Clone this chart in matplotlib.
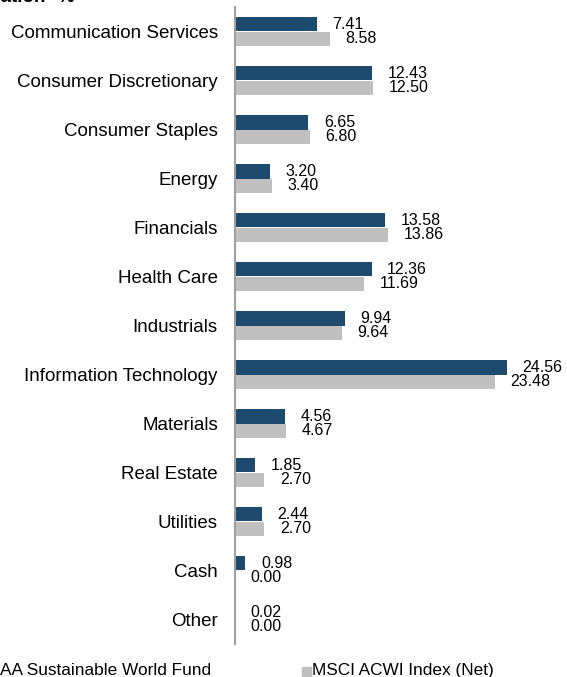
import matplotlib.pyplot as plt
import numpy as np
from matplotlib.patches import Rectangle

plt.rcParams['font.family'] = ['Liberation Sans', 'DejaVu Sans']

# Dati
sectors = ["Communication Services", "Consumer Discretionary", "Consumer Staples",
           "Energy", "Financials", "Health Care", "Industrials",
           "Information Technology", "Materials", "Real Estate", "Utilities",
           "Cash", "Other"]
fund = [7.41, 12.43, 6.65, 3.20, 13.58, 12.36, 9.94, 24.56, 4.56, 1.85, 2.44, 0.98, 0.02]
index = [8.58, 12.50, 6.80, 3.40, 13.86, 11.69, 9.64, 23.48, 4.67, 2.70, 2.70, 0.00, 0.00]

fund_name = "AA Sustainable World Fund"
index_name = "MSCI ACWI Index (Net)"
title = "Sector Allocation* %"

dark = '#1e4a6e'
grey = '#c0c0c0'

W, H = 567, 677
fig = plt.figure(figsize=(W / 100, H / 100), dpi=100)
ax = fig.add_axes([234.5 / W, 1 - 644 / H, (W - 234.5) / W, 637 / H])

y = np.arange(len(sectors))
h = 0.286
ax.barh(y - h / 2, fund, height=h, color=dark, edgecolor='none')
ax.barh(y + h / 2, index, height=h, color=grey, edgecolor='none')

off = 1.4
for i in range(len(sectors)):
    ax.text(fund[i] + off, y[i] - h / 2, f"{fund[i]:.2f}", va='center', ha='left', fontsize=11.5)
    ax.text(index[i] + off, y[i] + h / 2, f"{index[i]:.2f}", va='center', ha='left', fontsize=11.5)

ax.set_yticks(y)
ax.set_yticklabels(sectors, fontsize=13.5)
ax.tick_params(axis='y', length=0, pad=12)
ax.set_xticks([])
ax.set_xlim(0, (W - 234.5) / 11.1)
ax.set_ylim(len(sectors) - 0.5, -0.5)
for s in ['top', 'right', 'bottom']:
    ax.spines[s].set_visible(False)
ax.spines['left'].set_color('#a0a0a0')
ax.spines['left'].set_linewidth(1.5)

# Titolo (tagliato in alto a sinistra)
fig.text(75 / W, 1 - 2.5 / H, title, ha='right', va='baseline', fontsize=13.5, fontweight='bold')

# Legenda
fig.text(0, 1 - 670.5 / H, fund_name, ha='left', va='center', fontsize=12.4)
fig.patches.append(Rectangle((302 / W, 1 - 676 / H), 8.5 / W, 9 / H,
                             transform=fig.transFigure, color=grey))
fig.text(312 / W, 1 - 670.5 / H, index_name, ha='left', va='center', fontsize=12.4)

fig.savefig('out.png', dpi=100)
